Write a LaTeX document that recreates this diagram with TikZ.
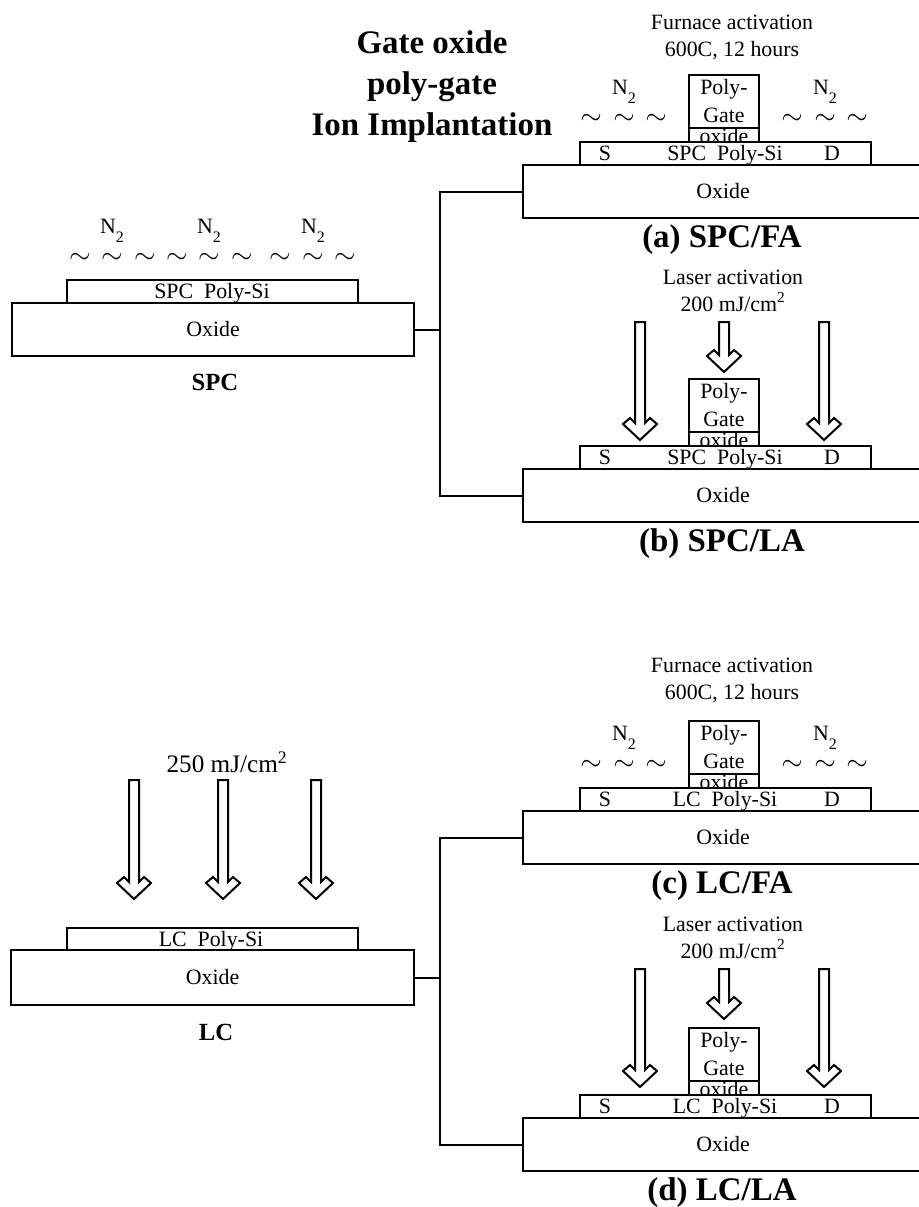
\documentclass[tikz,border=0pt]{standalone}
\usepackage{fontspec}
\setmainfont{Liberation Serif}
\usetikzlibrary{positioning}
\newcommand{\ntwo}{N\raisebox{-.45em}{\fontsize{12}{12}\selectfont 2}}
\tikzset{
  film/.style 2 args={draw=black,fill=white,line width=1.5pt,inner sep=0pt,outer sep=0pt,
    minimum width=#1*0.75pt,minimum height=#2*0.75pt,text=black},
  lbl/.style={font=\fontsize{16.4}{20.5}\selectfont,inner sep=0pt,align=center},
  headl/.style={font=\fontsize{24.7}{30.75}\selectfont\bfseries,inner sep=0pt,align=center},
  sublbl/.style={font=\fontsize{18.5}{22}\selectfont\bfseries,inner sep=0pt},
  gas/.style={font=\fontsize{20.5}{21}\selectfont,inner sep=0pt},
  wire/.style={line width=1.5pt,line join=miter},
  pics/beam/.style={code={
    \draw[line width=1.5pt,fill=white,line join=miter] (-5,0) -- (-5,#1-17) -- (-10,#1-22) -- (-17,#1-16)
      -- (0,#1) -- (17,#1-16) -- (10,#1-22) -- (5,#1-17) -- (5,0) -- cycle;}}
}
\begin{document}
\begin{tikzpicture}[x=0.75pt,y=-0.75pt]
  \clip (0,0) rectangle (919,1207);
  \fill[white] (0,0) rectangle (919,1207);
  % title
  \node[headl] (title) at (432,86.5) {Gate oxide\\poly-gate\\Ion Implantation};
  % left starting films
  \node[film={291}{23}] (polyspc) at (212.5,291.5) {};
  \node[lbl,anchor=base] (polyspct) at (212,298) {SPC\ \ Poly-Si};
  \node[film={402}{53},lbl] (oxspc) at (213,329.5) {Oxide};
  \node[sublbl] (capspc) at (215,382) {SPC};
  \node[film={291}{22}] (polylc) at (212,939) {};
  \node[lbl,anchor=base] (polylct) at (211,946) {LC\ \ Poly-Si};
  \node[film={403}{55},lbl] (oxlc) at (212.5,977.5) {Oxide};
  \node[sublbl] (caplc) at (216,1032) {LC};
  \foreach \x/\n in {112/a,209/b,313/c}{
    \node[lbl,anchor=base] (nspc\n) at (\x,233) {\ntwo};}
  \foreach \x in {80,112,145,177,209,242,280,313,345}{
    \node[gas] at (\x,258) {$\sim$};}
  \node[lbl,anchor=base,font=\fontsize{18.9}{22}\selectfont] (dose) at (227,772) {250 mJ/cm\textsuperscript{2}};
  \foreach \x in {134,223,316}{
    \pic at (\x,780) {beam=119};}
  % four finished devices
  \foreach \n/\y/\t/\a in {a/0/SPC/FA,b/304/SPC/LA,c/646/LC/FA,d/953/LC/LA}{
    \node[lbl,anchor=base] (ox\n t) at (724,143+\y) {oxide};
    \node[film={70}{53},lbl,fill=none] (gate\n) at (724,101+\y) {Poly-\\Gate};
    \draw[wire] (689,128+\y) -- (759,128+\y);
    \draw[wire] (689,128+\y) -- (689,142+\y);
    \draw[wire] (759,128+\y) -- (759,142+\y);
    \node[film={291}{23}] (poly\n) at (725.5,153.5+\y) {};
    \node[lbl,anchor=base] (poly\n t) at (725,160+\y) {\t\ \ Poly-Si};
    \node[lbl,anchor=base] (s\n) at (605,160+\y) {S};
    \node[lbl,anchor=base] (d\n) at (832,160+\y) {D};
    \node[film={400}{53},lbl] (ox\n) at (723,191.5+\y) {Oxide};
    \node[headl,anchor=base] (cap\n) at (722,247.5+\y) {(\n) \t/\a};
  }
  % furnace activation
  \foreach \n/\y/\z in {a/0/1,c/646/644}{
    \node[lbl,anchor=base] (fa\n) at (732,28+\z) {Furnace activation};
    \node[lbl,anchor=base] (fb\n) at (732,55+\z) {600C, 12 hours};
    \node[lbl,anchor=base] (nl\n) at (624,94+\y) {\ntwo};
    \node[lbl,anchor=base] (nr\n) at (825,94+\y) {\ntwo};
    \foreach \x in {591,624,656,792,825,857}{
      \node[gas] at (\x,119+\y) {$\sim$};}
  }
  % laser activation
  \foreach \n/\y in {b/0,d/647}{
    \node[lbl,anchor=base] (la\n) at (733,284+\y) {Laser activation};
    \node[lbl,anchor=base] (lb\n) at (733,311+\y) {200 mJ/cm\textsuperscript{2}};
    \pic at (640,322+\y) {beam=118};
    \pic at (824,322+\y) {beam=118};
    \pic at (724,322+\y) {beam=50};
  }
  % connectors
  \coordinate (busspc) at (440,0);
  \coordinate (buslc) at (440,0);
  \draw[wire] (oxspc.east) -- (oxspc.east -| busspc);
  \draw[wire] (oxa.west) -- (oxa.west -| busspc) -- (oxb.west -| busspc) -- (oxb.west);
  \draw[wire] (oxlc.east) -- (oxlc.east -| buslc);
  \draw[wire] (oxc.west) -- (oxc.west -| buslc) -- (oxd.west -| buslc) -- (oxd.west);
\end{tikzpicture}
\end{document}
